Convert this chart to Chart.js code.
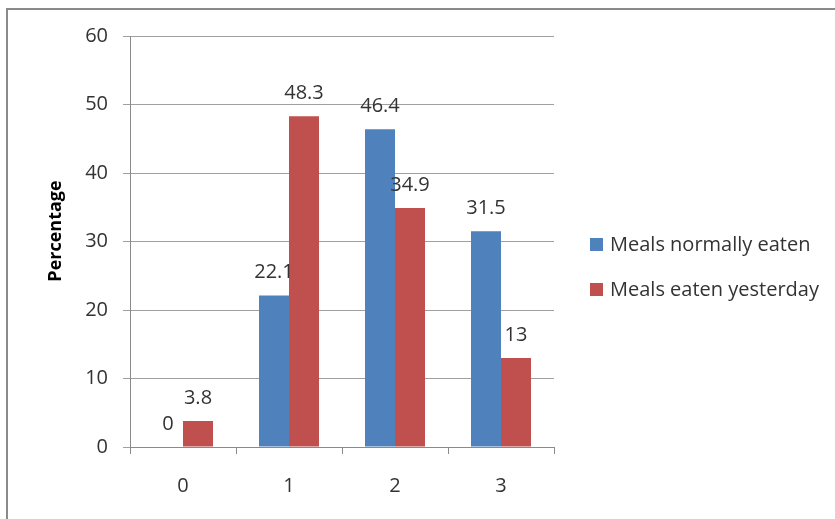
<!DOCTYPE html>
<html lang="en">
<head>
    <meta charset="UTF-8">
    <title>Meals eaten</title>
    <script src="https://cdn.jsdelivr.net/npm/chart.js"></script>
    <style>
        body { margin: 0; background: #fff; }
        canvas { display: block; }
    </style>
</head>
<body>

<canvas id="mealsChart" width="835" height="519"></canvas>

<script>
    // number of meals per day
    var categories = ['0', '1', '2', '3'];
    var normallyEaten = [0, 22.1, 46.4, 31.5];
    var eatenYesterday = [3.8, 48.3, 34.9, 13];
    var seriesNames = ['Meals normally eaten', 'Meals eaten yesterday'];
    var yTicks = [0, 10, 20, 30, 40, 50, 60];

    var fontFamily = "'Open Sans', sans-serif";
    var textColor = '#333333';

    // frame line on top and left, value labels, y title and legend
    var extras = {
        id: 'extras',
        beforeDraw: function(chart) {
            var ctx = chart.ctx;
            ctx.save();
            ctx.fillStyle = '#fff';
            ctx.fillRect(0, 0, chart.width, chart.height);
            ctx.strokeStyle = '#8a8a8a';
            ctx.lineWidth = 2;
            ctx.beginPath();
            ctx.moveTo(7, chart.height);
            ctx.lineTo(7, 9);
            ctx.lineTo(chart.width, 9);
            ctx.stroke();
            ctx.restore();
        },
        afterDatasetsDraw: function(chart) {
            var ctx = chart.ctx;
            ctx.save();
            ctx.font = '20px ' + fontFamily;
            ctx.fillStyle = textColor;
            ctx.textAlign = 'center';
            ctx.textBaseline = 'middle';
            chart.data.datasets.forEach(function(ds, i) {
                chart.getDatasetMeta(i).data.forEach(function(bar, j) {
                    ctx.fillText(String(ds.data[j]), bar.x, bar.y - 23);
                });
            });

            // y axis title
            ctx.save();
            ctx.translate(56, 231);
            ctx.rotate(-Math.PI / 2);
            ctx.font = 'bold 18px ' + fontFamily;
            ctx.fillStyle = '#000';
            ctx.fillText('Percentage', 0, 0);
            ctx.restore();

            // legend
            ctx.textAlign = 'left';
            ctx.font = '20px ' + fontFamily;
            chart.data.datasets.forEach(function(ds, i) {
                var y = 245 + i * 45;
                ctx.fillStyle = ds.backgroundColor;
                ctx.fillRect(590, y - 7, 13, 13);
                ctx.fillStyle = textColor;
                ctx.fillText(ds.label, 610, y);
            });
            ctx.restore();
        }
    };

    var ctx = document.getElementById('mealsChart').getContext('2d');
    var mealsChart = new Chart(ctx, {
        type: 'bar',
        data: {
            labels: categories,
            datasets: [{
                label: seriesNames[0],
                data: normallyEaten,
                backgroundColor: '#4F81BD'
            }, {
                label: seriesNames[1],
                data: eatenYesterday,
                backgroundColor: '#C0504D'
            }]
        },
        options: {
            responsive: false,
            animation: false,
            categoryPercentage: 0.566,
            barPercentage: 1,
            layout: {
                padding: { left: 0, top: 36, right: 281, bottom: 0 }
            },
            plugins: {
                legend: { display: false },
                tooltip: { enabled: false }
            },
            scales: {
                x: {
                    grid: {
                        drawOnChartArea: false,
                        drawTicks: true,
                        tickLength: 7,
                        color: '#8a8a8a'
                    },
                    border: { color: '#8a8a8a' },
                    ticks: {
                        color: textColor,
                        padding: 20,
                        font: { family: fontFamily, size: 20 }
                    },
                    afterFit: function(scale) { scale.height = 72; }
                },
                y: {
                    min: 0,
                    max: 60,
                    afterBuildTicks: function(scale) {
                        scale.ticks = yTicks.map(function(v) { return { value: v }; });
                    },
                    grid: {
                        color: '#a0a0a0',
                        tickLength: 7
                    },
                    border: { color: '#8a8a8a' },
                    ticks: {
                        color: textColor,
                        padding: 15,
                        font: { family: fontFamily, size: 20 }
                    },
                    afterFit: function(scale) { scale.width = 130; }
                }
            }
        },
        plugins: [extras]
    });
</script>

</body>
</html>
